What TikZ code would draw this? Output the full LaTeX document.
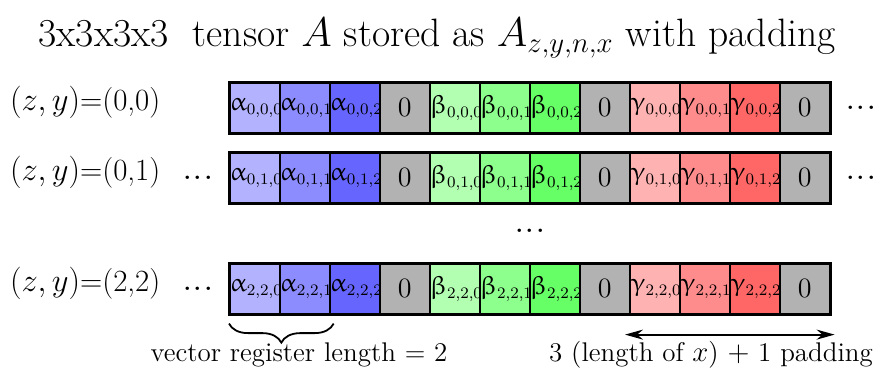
\documentclass[tikz,border=0pt]{standalone}
\usepackage{graphicx}
\usepackage{upgreek}
\usetikzlibrary{decorations.pathreplacing,arrows.meta}
\DeclareMathSizes{13}{13}{7.6}{6}
\colorlet{aA}{blue!30}\colorlet{aB}{blue!45}\colorlet{aC}{blue!60}
\colorlet{bA}{green!30}\colorlet{bB}{green!45}\colorlet{bC}{green!60}
\colorlet{cA}{red!30}\colorlet{cB}{red!45}\colorlet{cC}{red!60}
\colorlet{padc}{black!30}
\tikzset{
  cell/.style={draw, line width=0.8pt, minimum width=25pt, minimum height=25pt,
    inner sep=0pt, anchor=north west, font=\fontsize{13}{15}\selectfont},
  lbl/.style={font=\fontsize{16.4}{19}\selectfont},
  dots/.style={font=\fontsize{21}{24}\selectfont},
  note/.style={font=\fontsize{13.5}{16}\selectfont},
}
\newcommand\zylabel[1]{\scalebox{0.94}{$(z,y)$=#1}}
\newcommand\cellrow[3]{%
  \foreach \k/\col/\txt in {
    0/aA/{$\upalpha_{#3,0}$}, 1/aB/{$\upalpha_{#3,1}$}, 2/aC/{$\upalpha_{#3,2}$},
    3/padc/{\fontsize{14}{16}\selectfont 0},
    4/bA/{$\upbeta_{#3,0}$}, 5/bB/{$\upbeta_{#3,1}$}, 6/bC/{$\upbeta_{#3,2}$},
    7/padc/{\fontsize{14}{16}\selectfont 0},
    8/cA/{$\upgamma_{#3,0}$}, 9/cB/{$\upgamma_{#3,1}$}, 10/cC/{$\upgamma_{#3,2}$},
    11/padc/{\fontsize{14}{16}\selectfont 0}}
  {\node[cell, fill=\col] (#1-\k) at ({229+50*\k},#2) {\txt};}
  \draw[line width=1.1pt] (#1-0.north west) rectangle (#1-11.south east);
}
\begin{document}
\begin{tikzpicture}[x=0.5pt,y=-0.5pt]
\useasboundingbox (0,0) rectangle (876,376);
\node[font=\fontsize{19.8}{24}\selectfont] (title) at (437,38)
  {3x3x3x3\ \ tensor $A$ stored as $A_{z,y,n,x}$ with padding};
\cellrow{ra}{82}{0,0}
\cellrow{rb}{152}{0,1}
\cellrow{rc}{263}{2,2}
\node[lbl, anchor=west] (la) at (3,102) {\zylabel{(0,0)}};
\node[lbl, anchor=west] (lb) at (3,172) {\zylabel{(0,1)}};
\node[lbl, anchor=west] (lc) at (3,283) {\zylabel{(2,2)}};
\node[dots] (da) at (861,108) {...};
\node[dots] (db) at (861,178) {...};
\node[dots] (dbl) at (198,178) {...};
\node[dots] (dcl) at (198,289) {...};
\node[dots] (dm) at (530,231) {...};
\coordinate (bl) at ([yshift=-4.5pt]rc-0.south west);
\coordinate (br) at ([yshift=-4.5pt]rc-1.south east);
\draw[line width=0.9pt, decorate, decoration={brace, mirror, amplitude=9.5pt}] (bl) -- (br);
\coordinate (al) at ([xshift=-2pt,yshift=-10pt]rc-8.south west);
\coordinate (ar) at ([xshift=2pt,yshift=-10pt]rc-11.south east);
\draw[line width=1pt, {Stealth[length=9pt,width=5pt]}-{Stealth[length=9pt,width=5pt]}] (al) -- (ar);
\node[note] (vr) at (299,355) {vector register length = 2};
\node[note] (pl) at (711,355) {3 (length of $x$) $+$ 1 padding};
\end{tikzpicture}
\end{document}
